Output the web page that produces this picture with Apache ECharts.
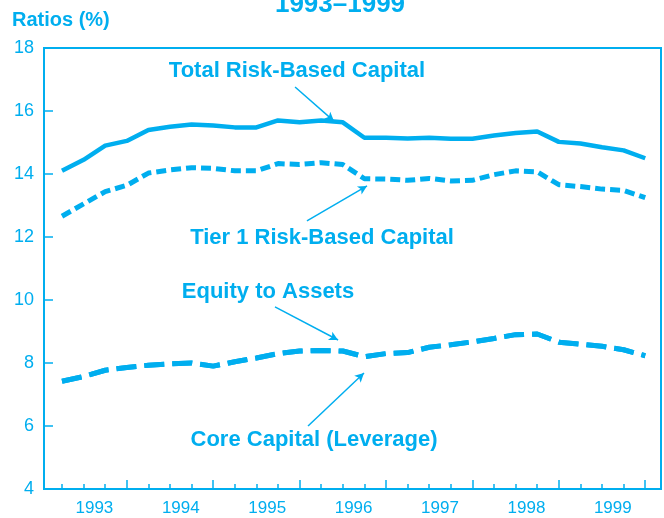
<!DOCTYPE html>
<html>
<head>
<meta charset="utf-8">
<script src="https://cdn.jsdelivr.net/npm/echarts@6/dist/echarts.min.js"></script>
<style>
  html, body { margin: 0; padding: 0; background: #fff; }
  #chart { width: 664px; height: 518px; }
</style>
</head>
<body>
<div id="chart"></div>
<script>
// quarterly data, 1993 Q1 .. 1999 Q4 (index 0..27)
var yearLabels = ['1993', '1994', '1995', '1996', '1997', '1998', '1999'];
var totalRiskBased = [14.1, 14.45, 14.9, 15.05, 15.4, 15.5, 15.57, 15.54, 15.48, 15.48, 15.7, 15.64, 15.7, 15.64,
    15.15, 15.15, 15.13, 15.15, 15.12, 15.12, 15.22, 15.3, 15.35, 15.02, 14.97, 14.85, 14.75, 14.5];
var tier1RiskBased = [12.66, 13.05, 13.44, 13.64, 14.03, 14.13, 14.2, 14.18, 14.1, 14.1, 14.33, 14.3, 14.36, 14.3,
    13.85, 13.84, 13.8, 13.86, 13.78, 13.8, 13.98, 14.1, 14.07, 13.66, 13.6, 13.52, 13.48, 13.25];
// equity to assets and core capital plot on top of each other in the original
var equityToAssets = [7.42, 7.57, 7.77, 7.86, 7.93, 7.97, 8.0, 7.9, 8.04, 8.16, 8.3, 8.38, 8.4, 8.38,
    8.2, 8.3, 8.33, 8.5, 8.58, 8.67, 8.78, 8.9, 8.92, 8.66, 8.6, 8.53, 8.42, 8.23];
var coreCapital = equityToAssets;

var cyan = '#00AEEF';

function toPairs(arr) {
    return arr.map(function (v, i) { return [i, v]; });
}

var quarterTicks = [];
for (var q = 0; q < 28; q++) quarterTicks.push(q);
var yearTicks = [3, 7, 11, 15, 19, 23, 27];
var yearLabelPos = [1.5, 5.5, 9.5, 13.5, 17.5, 21.5, 25.5];

function arrow(from, to) {
    return [{ coord: from }, { coord: to }];
}
var arrowStyle = {
    silent: true,
    symbol: ['none', 'arrow'],
    symbolSize: [7, 9],
    label: { show: false },
    lineStyle: { color: cyan, width: 1.5, type: 'solid' },
    emphasis: { disabled: true },
    animation: false
};

var myChart = echarts.init(document.getElementById('chart'));
var option = {
    animation: false,
    grid: {
        left: 44, right: 3, top: 48, bottom: 29,
        show: true, borderColor: cyan, borderWidth: 2
    },
    xAxis: [
        {
            type: 'value',
            min: -0.833, max: 27.73,
            splitLine: { show: false },
            axisLine: { show: true, onZero: false, lineStyle: { color: cyan, width: 2 } },
            axisTick: { show: true, inside: true, length: 5, customValues: quarterTicks, lineStyle: { color: cyan, width: 1.5 } },
            axisLabel: {
                customValues: yearLabelPos,
                color: cyan, fontSize: 17, margin: 11,
                fontFamily: 'Liberation Sans, Arial, sans-serif',
                formatter: function (v) { return yearLabels[Math.floor(v / 4)]; }
            }
        },
        {
            type: 'value',
            position: 'bottom',
            min: -0.833, max: 27.73,
            splitLine: { show: false },
            axisLine: { show: false, onZero: false },
            axisTick: { show: true, inside: true, length: 9, customValues: yearTicks, lineStyle: { color: cyan, width: 1.5 } },
            axisLabel: { show: false }
        }
    ],
    yAxis: {
        type: 'value',
        min: 4, max: 18, interval: 2,
        splitLine: { show: false },
        axisLine: { show: true, onZero: false, lineStyle: { color: cyan, width: 2 } },
        axisTick: { show: true, inside: true, length: 9, lineStyle: { color: cyan, width: 1.5 } },
        axisLabel: { color: cyan, fontSize: 18, margin: 10, fontFamily: 'Liberation Sans, Arial, sans-serif' }
    },
    series: [
        {
            name: 'Total Risk-Based Capital',
            type: 'line',
            data: toPairs(totalRiskBased),
            showSymbol: false,
            lineStyle: { color: cyan, width: 4.5 },
            markLine: Object.assign({ data: [arrow([10.79, 16.76], [12.59, 15.68])] }, arrowStyle)
        },
        {
            name: 'Tier 1 Risk-Based Capital',
            type: 'line',
            data: toPairs(tier1RiskBased),
            showSymbol: false,
            lineStyle: { color: cyan, width: 5, type: [10, 5] },
            markLine: Object.assign({ data: [arrow([11.34, 12.51], [14.12, 13.62])] }, arrowStyle)
        },
        {
            name: 'Equity to Assets',
            type: 'line',
            data: toPairs(equityToAssets),
            showSymbol: false,
            lineStyle: { color: cyan, width: 5, type: [20, 8] },
            markLine: Object.assign({ data: [arrow([9.86, 9.78], [12.78, 8.73])] }, arrowStyle)
        },
        {
            name: 'Core Capital (Leverage)',
            type: 'line',
            data: toPairs(coreCapital),
            showSymbol: false,
            lineStyle: { color: cyan, width: 5, type: [20, 8] },
            markLine: Object.assign({ data: [arrow([11.39, 6.0], [13.98, 7.68])] }, arrowStyle)
        }
    ],
    graphic: [
        { type: 'text', x: 340, y: 5, style: { text: '1993–1999', fill: cyan, font: 'bold 26px Liberation Sans, Arial, sans-serif', align: 'center', verticalAlign: 'middle' } },
        { type: 'text', x: 12, y: 20, style: { text: 'Ratios (%)', fill: cyan, font: 'bold 20px Liberation Sans, Arial, sans-serif', align: 'left', verticalAlign: 'middle' } },
        { type: 'text', x: 297, y: 71, style: { text: 'Total Risk-Based Capital', fill: cyan, font: 'bold 22px Liberation Sans, Arial, sans-serif', align: 'center', verticalAlign: 'middle' } },
        { type: 'text', x: 322, y: 238, style: { text: 'Tier 1 Risk-Based Capital', fill: cyan, font: 'bold 22px Liberation Sans, Arial, sans-serif', align: 'center', verticalAlign: 'middle' } },
        { type: 'text', x: 268, y: 292, style: { text: 'Equity to Assets', fill: cyan, font: 'bold 22px Liberation Sans, Arial, sans-serif', align: 'center', verticalAlign: 'middle' } },
        { type: 'text', x: 314, y: 440, style: { text: 'Core Capital (Leverage)', fill: cyan, font: 'bold 22px Liberation Sans, Arial, sans-serif', align: 'center', verticalAlign: 'middle' } }
    ]
};

myChart.setOption(option);
</script>
</body>
</html>
